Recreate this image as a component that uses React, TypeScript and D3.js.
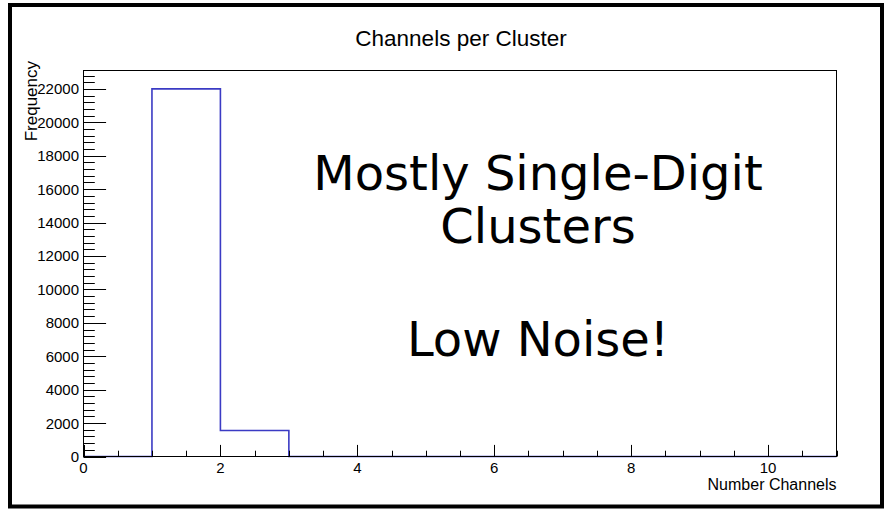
import React from "react";
import * as d3 from "d3";

// Histogram: channels per cluster, unit-width bins on [0, 11]
const binLowEdges = [0, 1, 2, 3, 4, 5, 6, 7, 8, 9, 10];
const binCounts = [0, 22000, 1560, 0, 0, 0, 0, 0, 0, 0, 0];
const xMajorTicks = [0, 2, 4, 6, 8, 10];
const yMajorTicks = [0, 2000, 4000, 6000, 8000, 10000, 12000, 14000, 16000, 18000, 20000, 22000];

const chartTitle = "Channels per Cluster";
const xTitle = "Number Channels";
const yTitle = "Frequency";
const noteLines = ["Mostly Single-Digit", "Clusters", "Low Noise!"];

const W = 891;
const H = 509;
const frame = { left: 83.5, top: 70.5, right: 836.5, bottom: 456.5 };

export default function App() {
  const xMax = binLowEdges[binLowEdges.length - 1] + 1;
  const yMax = d3.max(binCounts)! * 1.05;

  const x = d3.scaleLinear().domain([0, xMax]).range([frame.left, frame.right]);
  const y = d3.scaleLinear().domain([0, yMax]).range([frame.bottom, frame.top]);

  const stepPoints: [number, number][] = binLowEdges.map((e, i) => [e, binCounts[i]]);
  stepPoints.push([xMax, binCounts[binCounts.length - 1]]);
  const histPath = d3
    .line<[number, number]>()
    .x((d) => x(d[0]))
    .y((d) => y(d[1]))
    .curve(d3.curveStepAfter)(stepPoints);

  const xMinor = d3.range(0, xMax + 0.001, 0.5).filter((v) => !xMajorTicks.includes(v));
  const yMinor = d3.range(0, yMax, 400).filter((v) => !yMajorTicks.includes(v));

  const frameW = frame.right - frame.left;
  const frameH = frame.bottom - frame.top;
  const xMajLen = 0.03 * frameH;
  const xMinLen = 0.015 * frameH;
  const yMajLen = 0.03 * frameW;
  const yMinLen = 0.015 * frameW;

  const sans = "'Liberation Sans', Arial, Helvetica, sans-serif";
  const noteY = [190, 243, 356];

  return (
    <svg
      width={W}
      height={H}
      style={{ position: "absolute", left: 0, top: 0, background: "#fff" }}
      fontFamily={sans}
    >
      <rect x={0} y={0} width={W} height={H} fill="#fff" />
      {/* outer canvas border */}
      <rect x={10} y={5} width={872} height={501.5} fill="none" stroke="#000" strokeWidth={4} />

      {/* histogram outline */}
      <path d={histPath ?? ""} fill="none" stroke="#3b3bc4" strokeWidth={1.6} />

      {/* frame */}
      <rect
        x={frame.left}
        y={frame.top}
        width={frameW}
        height={frameH}
        fill="none"
        stroke="#000"
        strokeWidth={1}
      />

      {/* axis ticks */}
      <g stroke="#000" strokeWidth={1}>
        {xMajorTicks.map((v) => (
          <line key={"xM" + v} x1={Math.round(x(v)) + 0.5} x2={Math.round(x(v)) + 0.5} y1={frame.bottom} y2={frame.bottom - xMajLen} />
        ))}
        {xMinor.map((v) => (
          <line key={"xm" + v} x1={Math.round(x(v)) + 0.5} x2={Math.round(x(v)) + 0.5} y1={frame.bottom} y2={frame.bottom - xMinLen} />
        ))}
        {yMajorTicks.map((v) => (
          <line key={"yM" + v} x1={frame.left} x2={frame.left + yMajLen} y1={Math.round(y(v)) + 0.5} y2={Math.round(y(v)) + 0.5} />
        ))}
        {yMinor.map((v) => (
          <line key={"ym" + v} x1={frame.left} x2={frame.left + yMinLen} y1={Math.round(y(v)) + 0.5} y2={Math.round(y(v)) + 0.5} />
        ))}
      </g>

      {/* tick labels */}
      <g fontSize={15} fill="#000">
        {xMajorTicks.map((v) => (
          <text key={"xl" + v} x={x(v)} y={473} textAnchor="middle">
            {v}
          </text>
        ))}
        {yMajorTicks.map((v) => (
          <text key={"yl" + v} x={79} y={y(v) + 5.5} textAnchor="end">
            {v}
          </text>
        ))}
      </g>

      {/* axis titles */}
      <text x={frame.right} y={490} fontSize={16} textAnchor="end">
        {xTitle}
      </text>
      <text transform="translate(36.5,61) rotate(-90)" fontSize={17} textAnchor="end">
        {yTitle}
      </text>

      {/* plot title */}
      <text x={461} y={46} fontSize={22.5} textAnchor="middle">
        {chartTitle}
      </text>

      {/* annotation */}
      <g fontFamily="'DejaVu Sans', sans-serif" fontSize={48} textAnchor="middle" fill="#000">
        {noteLines.map((t, i) => (
          <text key={t} x={538} y={noteY[i]}>
            {t}
          </text>
        ))}
      </g>
    </svg>
  );
}
